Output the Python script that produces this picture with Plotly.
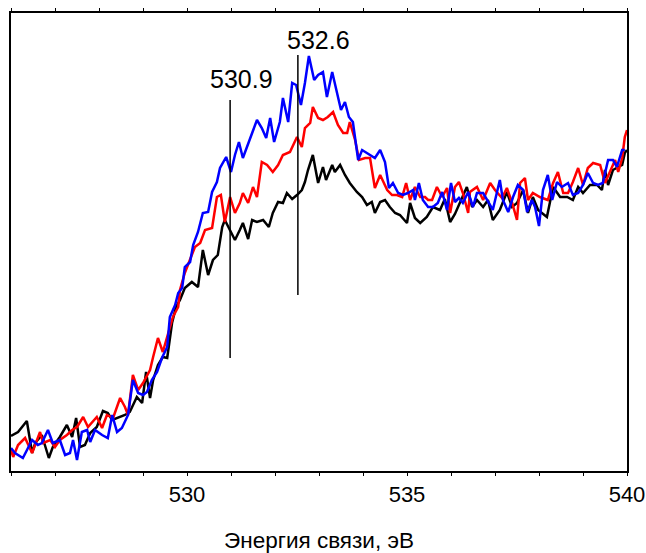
import plotly.graph_objects as go

# Energy (eV) and intensity (arb. units)
black_e = [526.00,526.16,526.36,526.48,526.55,526.70,526.86,526.95,527.11,527.27,527.39,527.48,527.57,527.68,527.80,527.95,
           528.09,528.20,528.30,528.48,528.59,528.70,528.86,528.98,529.07,529.16,529.23,529.34,529.45,529.55,529.66,529.75,
           529.84,529.95,530.11,530.25,530.36,530.48,530.59,530.70,530.80,530.86,530.98,531.09,531.20,531.27,531.39,531.48,
           531.59,531.73,531.86,531.95,532.07,532.18,532.27,532.39,532.50,532.61,532.68,532.75,532.86,532.98,533.09,533.16,
           533.30,533.36,533.48,533.59,533.70,533.86,533.98,534.09,534.20,534.27,534.39,534.50,534.61,534.73,534.84,535.00,
           535.07,535.18,535.30,535.45,535.59,535.75,535.86,535.98,536.09,536.20,536.36,536.48,536.59,536.73,536.84,536.95,
           537.11,537.27,537.39,537.50,537.64,537.75,537.86,537.98,538.18,538.32,538.48,538.64,538.77,538.89,539.00,539.16,
           539.32,539.43,539.50,539.57,539.68,539.80,539.89,539.95,540.00]
black_i = [35,39,50,18,28,36,13,24,34,46,34,53,24,26,38,44,
           60,58,51,54,56,59,74,68,99,73,91,106,114,113,148,164,
           171,183,189,184,221,196,211,216,244,251,241,231,241,248,232,251,
           249,251,244,258,269,268,278,272,276,281,289,301,316,288,304,291,
           306,299,306,296,288,279,274,266,269,258,269,271,264,258,256,248,
           268,253,248,254,264,261,272,249,257,268,284,264,271,264,271,251,
           261,279,264,268,281,258,274,261,254,284,274,274,271,284,278,286,
           286,281,301,286,301,304,306,318,321]

red_e = [526.00,526.05,526.16,526.32,526.48,526.66,526.73,526.89,527.00,527.11,527.27,527.39,527.50,527.64,527.75,527.95,
         528.07,528.18,528.32,528.48,528.59,528.66,528.77,528.89,529.00,529.16,529.23,529.34,529.45,529.57,529.68,529.80,
         529.84,529.95,530.07,530.18,530.30,530.41,530.57,530.68,530.77,530.86,530.98,531.09,531.20,531.27,531.39,531.50,
         531.59,531.70,531.82,531.95,532.07,532.18,532.34,532.50,532.61,532.68,532.80,532.86,532.98,533.09,533.20,533.32,
         533.43,533.55,533.64,533.70,533.82,533.91,534.05,534.16,534.27,534.39,534.55,534.66,534.77,534.89,534.98,535.07,
         535.18,535.30,535.41,535.48,535.57,535.68,535.80,535.91,535.98,536.09,536.18,536.27,536.39,536.43,536.59,536.73,
         536.89,537.00,537.16,537.27,537.39,537.50,537.57,537.68,537.75,537.86,538.02,538.20,538.32,538.43,538.55,538.66,
         538.77,538.89,539.00,539.11,539.23,539.39,539.50,539.61,539.73,539.80,539.89,539.95,540.00]
red_i = [21,14,26,33,18,39,28,31,24,31,36,41,44,54,44,54,
         43,56,53,73,64,56,96,81,88,101,114,133,119,138,154,164,
         181,198,211,224,228,241,243,274,276,249,274,258,268,278,268,284,
         274,309,306,299,306,316,319,334,324,343,348,364,353,351,354,359,
         346,338,338,349,331,311,313,313,283,296,281,276,276,274,288,271,
         284,274,274,271,271,284,274,283,258,284,289,278,258,279,284,271,
         288,281,273,283,268,251,288,293,271,278,274,271,288,299,278,278,
         289,303,286,303,308,306,288,299,311,299,313,334,341]

blue_e = [526.00,526.09,526.27,526.48,526.61,526.70,526.84,526.95,527.11,527.23,527.34,527.41,527.50,527.61,527.73,527.80,
          527.91,528.07,528.20,528.30,528.41,528.52,528.66,528.77,528.89,529.00,529.09,529.20,529.32,529.43,529.55,529.61,
          529.73,529.80,529.89,529.95,530.07,530.14,530.25,530.36,530.48,530.57,530.68,530.75,530.89,531.00,531.09,531.18,
          531.27,531.43,531.59,531.70,531.80,531.89,531.98,532.11,532.18,532.30,532.39,532.48,532.59,532.68,532.77,532.89,
          532.98,533.09,533.18,533.30,533.39,533.50,533.59,533.68,533.77,533.89,533.98,534.09,534.27,534.39,534.50,534.59,
          534.68,534.80,534.91,535.02,535.14,535.18,535.27,535.36,535.48,535.59,535.70,535.80,535.91,536.00,536.09,536.18,
          536.27,536.39,536.50,536.59,536.73,536.89,536.95,537.11,537.18,537.30,537.41,537.52,537.64,537.73,537.84,537.91,
          538.00,538.09,538.20,538.30,538.41,538.52,538.66,538.77,538.89,539.00,539.11,539.23,539.34,539.45,539.57,539.68,
          539.77,539.89,539.95]
blue_i = [23,18,13,31,26,28,41,28,31,16,18,31,11,39,41,29,
          41,36,33,56,39,43,56,91,78,76,79,91,99,113,124,154,
          166,178,183,204,209,226,239,258,259,279,289,303,314,299,316,329,
          313,333,351,343,333,353,329,349,373,349,388,386,366,388,415,391,
          396,399,374,399,383,361,369,354,349,311,321,318,313,321,309,283,
          288,278,276,278,281,271,288,271,264,264,268,279,261,288,269,273,
          268,279,264,278,278,266,261,291,271,259,274,286,281,259,271,264,
          245,281,296,271,289,284,288,276,278,286,298,288,286,288,311,311,
          304,321,321]

# Marker lines: label, line position (eV), intensity span, label placement
peak_labels = ["530.9", "532.6"]
peak_pos = [530.98, 532.52]
peak_lo = [113, 176]
peak_hi = [371, 416]
label_x = [531.23, 532.98]
label_y = [392, 431]

tick_vals = list(range(526, 541))
tick_text = [str(v) if v % 5 == 0 else "" for v in tick_vals]

fig = go.Figure()
for e, i, c in [(black_e, black_i, "#000000"), (red_e, red_i, "#ff0000"), (blue_e, blue_i, "#0000ff")]:
    fig.add_trace(go.Scatter(x=e, y=i, mode="lines", line=dict(color=c, width=2.5), showlegend=False))

for lab, p, lo, hi, lx, ly in zip(peak_labels, peak_pos, peak_lo, peak_hi, label_x, label_y):
    fig.add_shape(type="line", x0=p, x1=p, y0=lo, y1=hi, xref="x", yref="y",
                  line=dict(color="black", width=1.5))
    fig.add_annotation(x=lx, y=ly, text=lab, showarrow=False, xref="x", yref="y",
                       xanchor="center", yanchor="middle", font=dict(size=25, color="black"))

fig.update_layout(
    width=646, height=553,
    margin=dict(l=11, r=19, t=13, b=82, autoexpand=False),
    plot_bgcolor="white", paper_bgcolor="white",
    font=dict(family="Liberation Sans, Arial, sans-serif", color="black"),
)
fig.update_xaxes(range=[526, 540], showline=True, linecolor="black", linewidth=2, mirror="ticks",
                 ticks="outside", ticklen=3, tickwidth=1, tickcolor="black",
                 tickvals=tick_vals, ticktext=tick_text, tickfont=dict(size=22),
                 showgrid=False, zeroline=False, automargin=False,
                 title=dict(text="Энергия связи, эВ", font=dict(size=22.5), standoff=31))
fig.update_yaxes(range=[0, 458], showline=True, linecolor="black", linewidth=2, mirror=True,
                 showticklabels=False, ticks="", showgrid=False, zeroline=False, automargin=False)

fig.write_html("out.html", config={"displayModeBar": False})

# remove the browser's default page margin so the figure sits at the window origin
with open("out.html", encoding="utf-8") as f:
    html = f.read()
html = html.replace("<head>", "<head><style>html,body{margin:0;padding:0;overflow:hidden;}</style>", 1)
with open("out.html", "w", encoding="utf-8") as f:
    f.write(html)
